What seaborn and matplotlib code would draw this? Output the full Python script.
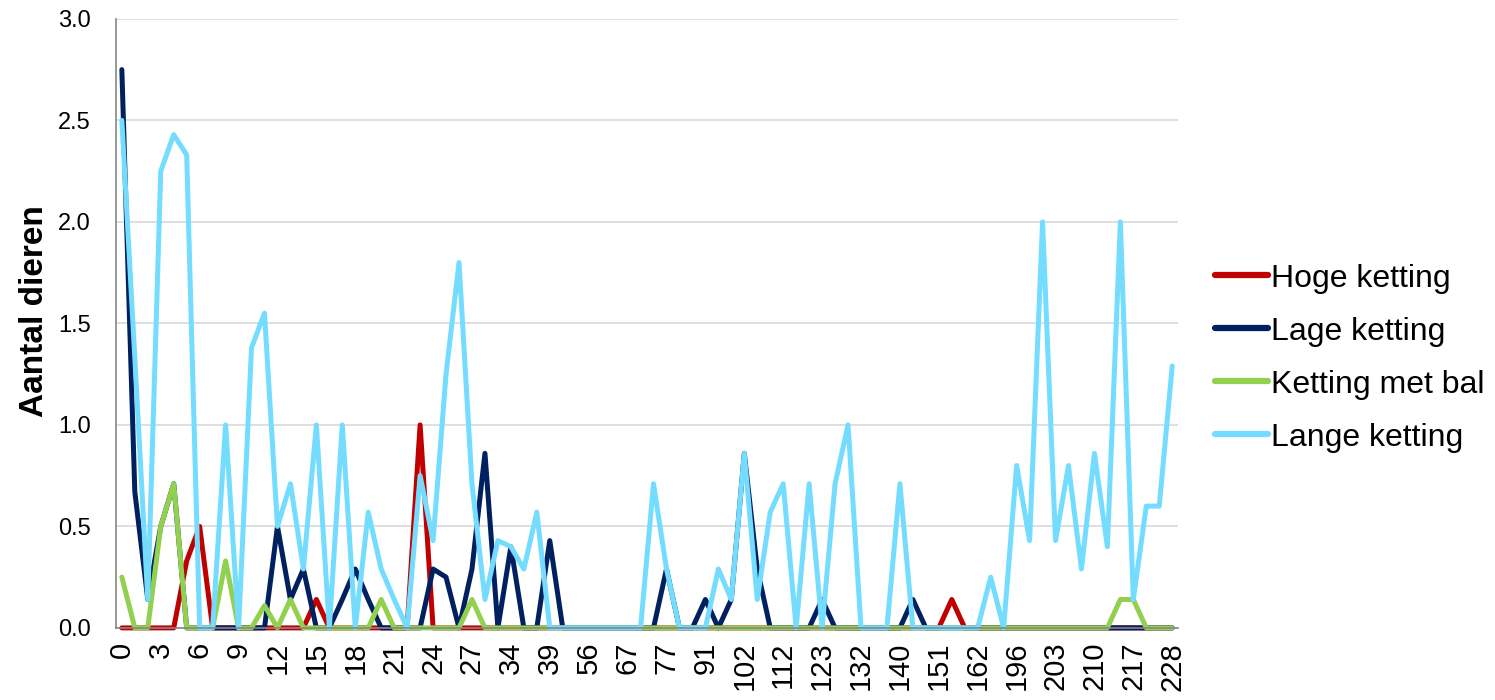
import numpy as np
import pandas as pd
import matplotlib
matplotlib.use('Agg')
import matplotlib.pyplot as plt
from matplotlib.ticker import FormatStrFormatter
import seaborn as sns

# Dagen (categorieen op de x-as, alleen elke 3e wordt gelabeld)
dagen = [0, 1, 2, 3, 4, 5, 6, 7, 8, 9, 10, 11, 12, 13, 14, 15, 16, 17, 18, 19,
         20, 21, 22, 23, 24, 25, 26, 27, 28, 31, 34, 35, 37, 39, 45, 50, 56, 60,
         63, 67, 70, 74, 77, 84, 88, 91, 95, 98, 102, 105, 109, 112, 116, 119,
         123, 126, 130, 132, 135, 137, 140, 144, 147, 151, 154, 158, 162, 168,
         189, 196, 198, 200, 203, 205, 207, 210, 212, 214, 217, 221, 224, 228]

hoge = [0, 0, 0, 0, 0, 0.33, 0.5, 0, 0, 0, 0, 0, 0, 0, 0, 0.14, 0, 0, 0, 0,
        0, 0, 0, 1.0, 0, 0, 0, 0, 0, 0, 0, 0, 0, 0, 0, 0, 0, 0, 0, 0,
        0, 0, 0, 0, 0, 0, 0, 0, 0, 0, 0, 0, 0, 0, 0, 0, 0, 0, 0, 0,
        0, 0, 0, 0, 0.14, 0, 0, 0, 0, 0, 0, 0, 0, 0, 0, 0, 0, 0, 0, 0,
        0, 0]

lage = [2.75, 0.67, 0.14, 0.5, 0.71, 0, 0, 0, 0, 0, 0, 0, 0.5, 0.14, 0.29, 0, 0, 0.14, 0.29, 0.14,
        0, 0, 0, 0, 0.29, 0.25, 0, 0.29, 0.86, 0, 0.4, 0, 0, 0.43, 0, 0, 0, 0, 0, 0,
        0, 0, 0.29, 0, 0, 0.14, 0, 0.14, 0.86, 0.29, 0, 0, 0, 0, 0.14, 0, 0, 0, 0, 0,
        0, 0.14, 0, 0, 0, 0, 0, 0, 0, 0, 0, 0, 0, 0, 0, 0, 0, 0, 0, 0,
        0, 0]

bal = [0.25, 0, 0, 0.5, 0.71, 0, 0, 0, 0.33, 0, 0, 0.11, 0, 0.14, 0, 0, 0, 0, 0, 0,
       0.14, 0, 0, 0, 0, 0, 0, 0.14, 0, 0, 0, 0, 0, 0, 0, 0, 0, 0, 0, 0,
       0, 0, 0, 0, 0, 0, 0, 0, 0, 0, 0, 0, 0, 0, 0, 0, 0, 0, 0, 0,
       0, 0, 0, 0, 0, 0, 0, 0, 0, 0, 0, 0, 0, 0, 0, 0, 0, 0.14, 0.14, 0,
       0, 0]

lange = [2.5, 1.33, 0.14, 2.25, 2.43, 2.33, 0, 0, 1.0, 0, 1.38, 1.55, 0.5, 0.71, 0.29, 1.0, 0, 1.0, 0, 0.57,
         0.29, 0.14, 0, 0.75, 0.43, 1.25, 1.8, 0.71, 0.14, 0.43, 0.4, 0.29, 0.57, 0, 0, 0, 0, 0, 0, 0,
         0, 0.71, 0.29, 0, 0, 0, 0.29, 0.14, 0.86, 0.14, 0.57, 0.71, 0, 0.71, 0, 0.71, 1.0, 0, 0, 0,
         0.71, 0, 0, 0, 0, 0, 0, 0.25, 0, 0.8, 0.43, 2.0, 0.43, 0.8, 0.29, 0.86, 0.4, 2.0, 0.14, 0.6,
         0.6, 1.29]

series = ['Hoge ketting', 'Lage ketting', 'Ketting met bal', 'Lange ketting']
kleuren = {'Hoge ketting': '#C00000', 'Lage ketting': '#002060',
           'Ketting met bal': '#92D050', 'Lange ketting': '#73DCFF'}

df = pd.DataFrame({
    'dag': [str(d) for d in dagen] * 4,
    'serie': np.repeat(series, len(dagen)),
    'aantal': hoge + lage + bal + lange,
})

sns.set_style('white')
plt.rcParams['font.family'] = ['Liberation Sans', 'DejaVu Sans']
plt.rcParams['text.color'] = 'black'
plt.rcParams['xtick.color'] = 'black'
plt.rcParams['ytick.color'] = 'black'
plt.rcParams['axes.labelcolor'] = 'black'

fig, ax = plt.subplots(figsize=(14.95, 7), dpi=100)
fig.subplots_adjust(left=0.0776, right=0.788, top=0.973, bottom=0.103)

sns.lineplot(data=df, x='dag', y='aantal', hue='serie', hue_order=series,
             palette=kleuren, linewidth=3.6, sort=False, estimator=None, ax=ax)
for l in ax.lines:
    l.set_clip_on(False)
    l.set_solid_joinstyle('round')
    l.set_linewidth(3.6)

n = len(dagen)
ax.set_xlim(-0.45, n - 1 + 0.45)
ax.set_ylim(0, 3)
ax.set_yticks(np.arange(0, 3.01, 0.5))
ax.yaxis.set_major_formatter(FormatStrFormatter('%.1f'))
ax.set_xticks(range(0, n, 3))
ax.set_xticklabels([str(d) for d in dagen[::3]])

ax.tick_params(axis='y', labelsize=17, length=0, pad=18)
ax.tick_params(axis='x', labelsize=21, length=0, pad=10, rotation=90)

ax.yaxis.grid(True, color='#D9D9D9', lw=1.2)
ax.set_axisbelow(True)
for s in ['top', 'right']:
    ax.spines[s].set_visible(False)
for s in ['left', 'bottom']:
    ax.spines[s].set_color('#868686')
    ax.spines[s].set_linewidth(1.2)

ax.set_xlabel('')
ax.set_ylabel('Aantal dieren', fontsize=24, fontweight='bold')
ax.yaxis.set_label_coords(-0.062, 0.52)

leg = ax.legend(loc='center left', bbox_to_anchor=(1.035, 0.443), frameon=False,
                fontsize=23, handlelength=1.65, handletextpad=0.1, labelspacing=0.72,
                borderpad=0, borderaxespad=0)
for h in leg.get_lines():
    h.set_linewidth(4.5)

fig.savefig('out.png', dpi=100)
